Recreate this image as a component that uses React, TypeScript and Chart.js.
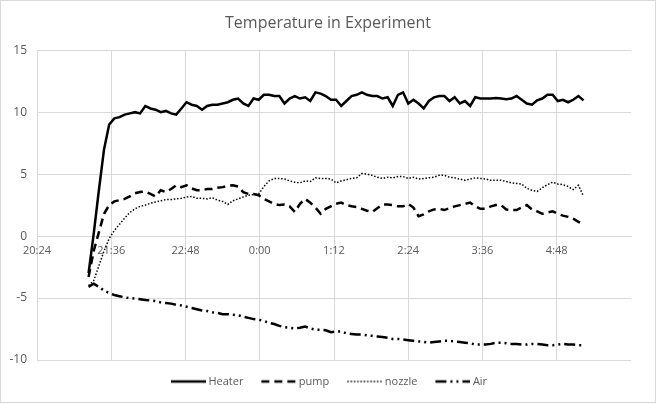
import React, { useEffect, useRef } from 'react';
import { Chart, registerables } from 'chart.js';
Chart.register(...registerables);

// time in minutes since midnight of first day
const START_MIN = 1274; // 21:14 first sample
const STEP_MIN = 5;
const X_MIN = 1224; // 20:24
const X_MAX = 1800; // 6:00
const X_STEP = 72;
const Y_MIN = -10;
const Y_MAX = 15;
const Y_STEP = 5;

const seriesNames = ['Heater', 'pump', 'nozzle', 'Air'];

const heater = [
  -3.0, 0.2, 3.7, 7.0, 9.0, 9.5, 9.6, 9.8, 9.9, 10.0,
  9.9, 10.5, 10.3, 10.2, 10.0, 10.1, 9.9, 9.8, 10.3, 10.8,
  10.6, 10.5, 10.2, 10.5, 10.6, 10.6, 10.7, 10.8, 11.0, 11.1,
  10.7, 10.5, 11.1, 11.0, 11.4, 11.4, 11.3, 11.3, 10.7, 11.1,
  11.3, 11.1, 11.2, 10.9, 11.6, 11.5, 11.3, 11.0, 11.0, 10.5,
  10.9, 11.3, 11.4, 11.6, 11.4, 11.3, 11.3, 11.1, 11.2, 10.5,
  11.4, 11.6, 10.7, 11.0, 10.7, 10.3, 10.9, 11.2, 11.3, 11.3,
  10.9, 11.2, 10.7, 10.9, 10.5, 11.2, 11.1, 11.1, 11.1, 11.15,
  11.1, 11.05, 11.1, 11.3, 11.0, 10.7, 10.6, 10.95, 11.1, 11.4,
  11.4, 10.9, 11.0, 10.8, 11.0, 11.3, 10.95,
];

const pump = [
  -3.3, -1.2, 0.3, 1.8, 2.5, 2.8, 2.9, 3.0, 3.2, 3.45,
  3.55, 3.6, 3.4, 3.2, 3.7, 3.55, 3.8, 4.1, 3.95, 4.1,
  3.85, 3.7, 3.7, 3.8, 3.8, 3.9, 3.95, 4.05, 4.1, 4.0,
  3.55, 3.4, 3.4, 3.3, 3.0, 2.8, 2.6, 2.5, 2.55, 2.4,
  1.95, 2.6, 3.0, 2.7, 2.3, 1.8, 2.2, 2.4, 2.6, 2.7,
  2.5, 2.4, 2.35, 2.2, 2.05, 1.95, 2.25, 2.55, 2.55, 2.5,
  2.4, 2.4, 2.6, 2.3, 1.6, 1.75, 2.0, 2.15, 2.2, 2.1,
  2.25, 2.4, 2.5, 2.6, 2.7, 2.4, 2.2, 2.2, 2.4, 2.5,
  2.5, 2.15, 2.1, 2.1, 2.3, 2.5, 2.15, 2.0, 1.8, 1.9,
  2.0, 1.8, 1.65, 1.55, 1.4, 1.15, 0.95,
];

const nozzle = [
  -4.0, -3.6, -2.4, -1.2, -0.2, 0.45, 0.95, 1.45, 1.9, 2.2,
  2.4, 2.5, 2.65, 2.75, 2.85, 2.95, 2.95, 3.0, 3.05, 3.15,
  3.2, 3.05, 3.05, 3.0, 3.1, 2.9, 2.8, 2.55, 2.85, 3.0,
  3.15, 3.3, 3.35, 3.4, 4.0, 4.45, 4.65, 4.65, 4.6, 4.45,
  4.35, 4.3, 4.45, 4.4, 4.7, 4.65, 4.65, 4.6, 4.3, 4.45,
  4.55, 4.65, 4.7, 5.05, 5.0, 4.9, 4.75, 4.65, 4.75, 4.7,
  4.8, 4.8, 4.65, 4.75, 4.6, 4.65, 4.7, 4.75, 4.9, 4.9,
  4.75, 4.7, 4.6, 4.5, 4.6, 4.7, 4.65, 4.6, 4.5, 4.5,
  4.5, 4.4, 4.3, 4.25, 4.2, 3.85, 3.7, 3.6, 3.9, 4.15,
  4.35, 4.2, 4.15, 4.0, 3.75, 4.1, 3.2,
];

const air = [
  -4.1, -3.85, -4.1, -4.4, -4.6, -4.75, -4.85, -4.95, -5.0, -5.05,
  -5.1, -5.15, -5.2, -5.25, -5.35, -5.4, -5.45, -5.55, -5.6, -5.7,
  -5.8, -5.9, -6.0, -6.05, -6.15, -6.2, -6.3, -6.3, -6.35, -6.4,
  -6.5, -6.6, -6.7, -6.75, -6.85, -7.0, -7.1, -7.25, -7.35, -7.4,
  -7.45, -7.4, -7.3, -7.45, -7.55, -7.55, -7.6, -7.75, -7.7, -7.7,
  -7.85, -7.9, -7.95, -7.95, -8.0, -8.05, -8.1, -8.15, -8.2, -8.3,
  -8.3, -8.35, -8.4, -8.45, -8.5, -8.55, -8.6, -8.55, -8.5, -8.45,
  -8.45, -8.5, -8.55, -8.6, -8.65, -8.75, -8.75, -8.75, -8.7, -8.6,
  -8.6, -8.65, -8.7, -8.7, -8.75, -8.75, -8.7, -8.7, -8.75, -8.8,
  -8.8, -8.75, -8.7, -8.75, -8.75, -8.8, -8.8,
];

const lineWidths = [2.5, 2.5, 1.5, 2.5];
const lineDashes: number[][] = [[], [8, 5], [1.5, 1.8], [11, 4, 2, 4, 2, 4]];

const FONT = "'Open Sans', 'Liberation Sans', sans-serif";
const TEXT = '#595959';
const GRID = '#d9d9d9';
const LEG_W = 34;

function fmtTime(v: number): string {
  const h = Math.floor(v / 60) % 24;
  const m = Math.round(v % 60);
  return `${h}:${m < 10 ? '0' + m : m}`;
}

function toPoints(vals: number[]) {
  return vals.map((y, i) => ({ x: START_MIN + i * STEP_MIN, y }));
}

function legendSample(width: number, dash: number[]) {
  const c = document.createElement('canvas');
  c.width = LEG_W + 6;
  c.height = 6;
  const g = c.getContext('2d')!;
  g.strokeStyle = '#000';
  g.lineWidth = width;
  g.setLineDash(dash);
  g.beginPath();
  g.moveTo(5, 3);
  g.lineTo(LEG_W + 6, 3);
  g.stroke();
  return c;
}

export default function App() {
  const ref = useRef<HTMLCanvasElement | null>(null);
  useEffect(() => {
    if (!ref.current) return;
    const samples = seriesNames.map((_, i) => legendSample(lineWidths[i], lineDashes[i]));
    const common = { pointRadius: 0, tension: 0, fill: false, borderColor: '#000000', backgroundColor: '#000000' };
    const series = [heater, pump, nozzle, air];
    const chart = new Chart(ref.current, {
      type: 'line',
      data: {
        datasets: series.map((vals, i) => ({
          ...common,
          label: seriesNames[i],
          data: toPoints(vals),
          borderWidth: lineWidths[i],
          borderDash: lineDashes[i],
          yAxisID: 'y',
        })),
      },
      options: {
        responsive: false,
        animation: false,
        layout: { padding: { left: 0, right: 0, top: 1, bottom: 5 } },
        plugins: {
          title: {
            display: true,
            text: 'Temperature in Experiment',
            color: TEXT,
            font: { family: FONT, size: 16, weight: 'normal' },
            padding: { top: 12, bottom: 17 },
          },
          legend: {
            position: 'bottom',
            labels: {
              color: TEXT,
              font: { family: FONT, size: 11 },
              usePointStyle: true,
              pointStyleWidth: LEG_W,
              padding: 16,
              generateLabels: (ch: any) => {
                const base = Chart.defaults.plugins.legend.labels.generateLabels(ch);
                return base.map((l: any, i: number) => ({ ...l, pointStyle: samples[i] }));
              },
            },
          },
          tooltip: { enabled: false },
        },
        scales: {
          x: {
            type: 'linear',
            position: { y: 0 },
            min: X_MIN,
            max: X_MAX,
            grid: {
              color: GRID,
              lineWidth: 1,
              drawTicks: false,
            },
            border: { color: GRID },
            ticks: {
              stepSize: X_STEP,
              autoSkip: false,
              maxRotation: 0,
              padding: 8,
              color: TEXT,
              font: { family: FONT, size: 11 },
              callback: (v: any) => (Number(v) >= X_MAX ? null : fmtTime(Number(v))),
            },
          },
          y: {
            min: Y_MIN,
            max: Y_MAX,
            grid: { color: GRID, lineWidth: 1, drawTicks: false },
            border: { display: false },
            ticks: {
              stepSize: Y_STEP,
              padding: 10,
              color: TEXT,
              font: { family: FONT, size: 12 },
            },
            afterFit: (scale: any) => { scale.width = 36; },
          },
          yRight: {
            position: 'right',
            min: Y_MIN,
            max: Y_MAX,
            grid: { display: false },
            border: { display: false },
            ticks: { display: false },
            afterFit: (scale: any) => { scale.width = 24; },
          },
        },
      },
    });
    return () => chart.destroy();
  }, []);
  return (
    <div style={{ position: 'fixed', left: 0, top: 0, width: 656, height: 403, border: '1px solid #d9d9d9', boxSizing: 'border-box', background: '#fff' }}>
      <canvas ref={ref} width={654} height={401} style={{ display: 'block' }} />
    </div>
  );
}
